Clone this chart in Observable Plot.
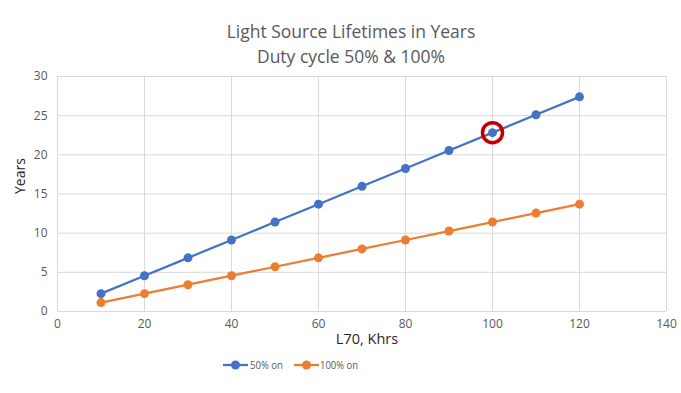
<!DOCTYPE html>
<html><head><meta charset="utf-8">
<script src="https://cdn.jsdelivr.net/npm/d3@7"></script>
<script src="https://cdn.jsdelivr.net/npm/@observablehq/plot@0.6"></script>
<style>
body{margin:0;background:#fff;font-family:"Open Sans","Noto Sans",sans-serif;}
#wrap{position:relative;width:681px;height:393px;overflow:hidden;}
#wrap svg.plot{position:absolute;left:0;top:0;}
.title{position:absolute;left:0;width:702px;text-align:center;color:#595959;font-size:17.5px;line-height:24px;}
</style></head>
<body><div id="wrap"></div>
<script>
const lifetimeKhrs = [10,20,30,40,50,60,70,80,90,100,110,120];
const years50 = [2.28,4.57,6.85,9.13,11.42,13.70,15.98,18.26,20.55,22.83,25.11,27.40];
const years100 = [1.14,2.28,3.42,4.57,5.71,6.85,7.99,9.13,10.27,11.42,12.56,13.70];
const seriesNames = ["50% on","100% on"];
const xTicks = [0,20,40,60,80,100,120,140];
const yTicks = [0,5,10,15,20,25,30];
const highlight = [{x:100, y:22.83}];
const colors = ["#4472C4","#ED7D31"];

const rows = [];
lifetimeKhrs.forEach((k,i)=>{
  rows.push({x:k, y:years50[i], s:seriesNames[0]});
  rows.push({x:k, y:years100[i], s:seriesNames[1]});
});

const chart = Plot.plot({
  width:681, height:393,
  marginTop:76, marginBottom:82, marginLeft:57, marginRight:15,
  style:{fontFamily:"'Open Sans','Noto Sans',sans-serif", fontSize:"12px", color:"#595959", background:"white"},
  x:{domain:[0,140], ticks:xTicks, tickSize:0, tickPadding:8, label:null},
  y:{domain:[0,30], ticks:yTicks, tickSize:0, tickPadding:10, label:null},
  color:{domain:seriesNames, range:colors},
  marks:[
    Plot.ruleX(xTicks, {stroke:"#d9d9d9", strokeWidth:1}),
    Plot.ruleY(yTicks, {stroke:"#d9d9d9", strokeWidth:1}),
    Plot.line(rows, {x:"x", y:"y", z:"s", stroke:"s", strokeWidth:2.25}),
    Plot.dot(rows, {x:"x", y:"y", fill:"s", r:4.5}),
    Plot.dot(highlight, {x:"x", y:"y", r:10, stroke:"#C00000", strokeWidth:3.5, fill:"none"}),
    Plot.text(["L70, Khrs"], {frameAnchor:"bottom", dx:5, dy:32, fontSize:14.5, fill:"#262626"}),
    Plot.text(["Years"], {frameAnchor:"left", dx:-37, rotate:-90, fontSize:14, fill:"#262626"})
  ]
});
chart.classList.add("plot");
const wrap = document.getElementById("wrap");
wrap.appendChild(chart);

const t1 = document.createElement("div"); t1.className="title"; t1.style.top="19px"; t1.textContent="Light Source Lifetimes in Years"; wrap.appendChild(t1);
const t2 = document.createElement("div"); t2.className="title"; t2.style.top="44px"; t2.textContent="Duty cycle 50% & 100%"; wrap.appendChild(t2);

// legend
const ns="http://www.w3.org/2000/svg";
const lg = document.createElementNS(ns,"svg");
lg.setAttribute("width",681); lg.setAttribute("height",20);
lg.style.position="absolute"; lg.style.top="355px"; lg.style.left="0";
const items=[{x0:223,tx:250,w:33},{x0:294,tx:320,w:38}];
seriesNames.forEach((n,i)=>{
  const it=items[i];
  const l=document.createElementNS(ns,"line");
  l.setAttribute("x1",it.x0); l.setAttribute("x2",it.x0+25); l.setAttribute("y1",10); l.setAttribute("y2",10);
  l.setAttribute("stroke",colors[i]); l.setAttribute("stroke-width",2.25); lg.appendChild(l);
  const c=document.createElementNS(ns,"circle");
  c.setAttribute("cx",it.x0+12.5); c.setAttribute("cy",10); c.setAttribute("r",4.5); c.setAttribute("fill",colors[i]); lg.appendChild(c);
  const t=document.createElementNS(ns,"text");
  t.setAttribute("x",it.tx); t.setAttribute("y",14); t.setAttribute("fill","#595959");
  t.setAttribute("font-size","11.5px"); t.setAttribute("font-family","'Open Sans','Noto Sans',sans-serif");
  t.setAttribute("textLength",it.w); t.setAttribute("lengthAdjust","spacingAndGlyphs");
  t.textContent=n; lg.appendChild(t);
});
wrap.appendChild(lg);
</script></body></html>
